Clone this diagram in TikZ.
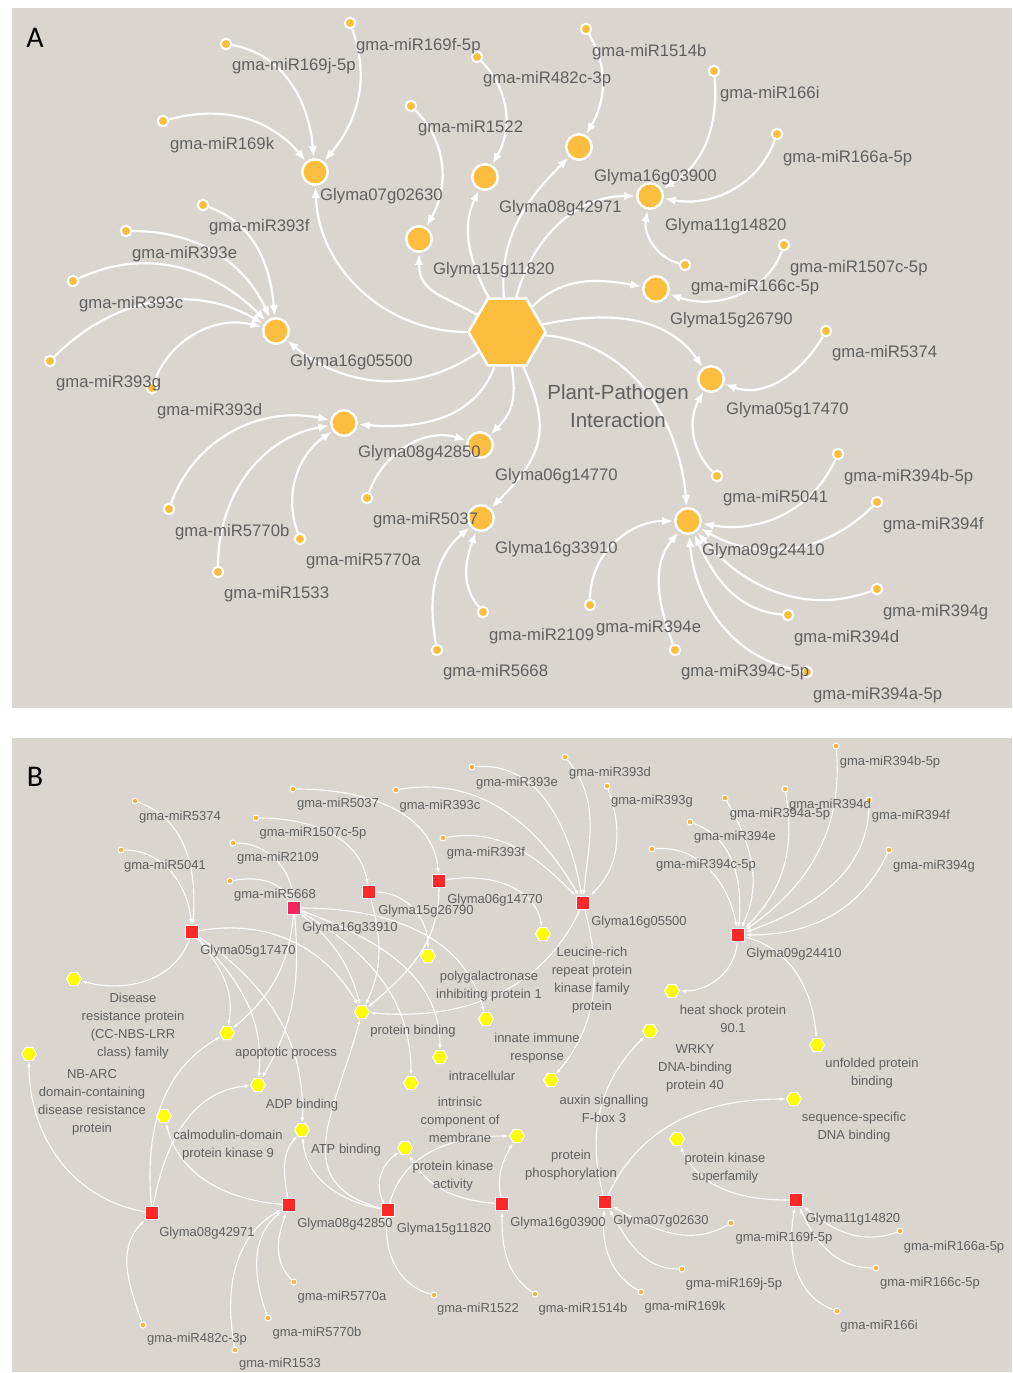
\documentclass[tikz,border=0pt]{standalone}
\usepackage{fontspec}
\setmainfont{Liberation Sans}
\newfontfamily\carl{Carlito}
\usetikzlibrary{shapes.geometric,arrows.meta}
\definecolor{bgc}{RGB}{218,213,207}
\definecolor{orA}{RGB}{253,190,64}
\definecolor{txt}{RGB}{96,96,96}
\definecolor{redB}{RGB}{255,40,40}
\definecolor{pinkB}{RGB}{238,40,95}
\definecolor{yelB}{RGB}{255,255,0}
\definecolor{orB}{RGB}{255,178,60}
\tikzset{
 tgtA/.style={circle, fill=orA, draw=white, line width=2.4pt, minimum size=25.5pt, inner sep=0pt},
 mirA/.style={circle, fill=orA, draw=white, line width=2pt, minimum size=10.5pt, inner sep=0pt},
 hubA/.style={regular polygon, regular polygon sides=6, fill=orA, draw=white, line width=2.5pt, minimum size=77pt, inner sep=0pt},
 lblA/.style={font=\fontsize{16.7}{20}\selectfont, text=txt, anchor=west, inner sep=0pt},
 edA/.style={draw=white, line width=2.2pt, -{Latex[length=11pt,width=8.5pt]}, shorten >=1pt},
 glyB/.style={rectangle, fill=redB, draw=white, line width=1.2pt, minimum size=13.5pt, inner sep=0pt},
 goB/.style={regular polygon, regular polygon sides=6, fill=yelB, draw=white, line width=1pt, minimum size=15pt, inner sep=0pt},
 mirB/.style={circle, fill=orB, draw=white, line width=1pt, minimum size=6pt, inner sep=0pt},
 lblB/.style={font=\fontsize{13}{18}\selectfont, text=txt, inner sep=0pt, align=center},
 edB/.style={draw=white, line width=1.1pt, -{Latex[length=5pt,width=3.8pt]}, shorten >=0.5pt},
 letter/.style={font=\carl\fontsize{30}{30}\selectfont, text=black, inner sep=0pt}
}
\begin{document}
\begin{tikzpicture}[x=1pt,y=1pt]
\useasboundingbox (0,0) rectangle (1012,-1373);
\fill[white] (0,0) rectangle (1012,-1373);
\fill[bgc] (12,-8) rectangle (1012,-708);
\fill[bgc] (12,-738) rectangle (1012,-1372);
\node[letter] (LA) at (35,-38) {A};
\node[letter] (LB) at (35,-777) {B};

% ================= PANEL A =================
\node[hubA] (H) at (507,-332) {};
\node[tgtA] (a0702) at (315,-172) {};
\node[tgtA] (a1511) at (419,-239) {};
\node[tgtA] (a0897) at (485,-177) {};
\node[tgtA] (a1603) at (579,-147) {};
\node[tgtA] (a1114) at (650,-196) {};
\node[tgtA] (a1526) at (656,-289) {};
\node[tgtA] (a0517) at (711,-379) {};
\node[tgtA] (a0924) at (688,-521) {};
\node[tgtA] (a1633) at (481,-518) {};
\node[tgtA] (a0614) at (480,-445) {};
\node[tgtA] (a0885) at (344,-423) {};
\node[tgtA] (a1655) at (276,-331) {};

\node[mirA] (am169f) at (350,-23) {};
\node[mirA] (am169j) at (226,-44) {};
\node[mirA] (am169k) at (163,-121) {};
\node[mirA] (am482) at (477,-57) {};
\node[mirA] (am1522) at (411,-106) {};
\node[mirA] (am393f) at (203,-205) {};
\node[mirA] (am393e) at (126,-231) {};
\node[mirA] (am393c) at (73,-281) {};
\node[mirA] (am393g) at (50,-361) {};
\node[mirA] (am393d) at (152,-388) {};
\node[mirA] (am1514) at (586,-29) {};
\node[mirA] (am166i) at (714,-71) {};
\node[mirA] (am166a) at (777,-134) {};
\node[mirA] (am166c) at (685,-265) {};
\node[mirA] (am1507) at (784,-245) {};
\node[mirA] (am5374) at (826,-331) {};
\node[mirA] (am5041) at (717,-476) {};
\node[mirA] (am394b) at (838,-454) {};
\node[mirA] (am394f) at (877,-502) {};
\node[mirA] (am394g) at (877,-589) {};
\node[mirA] (am394d) at (788,-615) {};
\node[mirA] (am394a) at (807,-672) {};
\node[mirA] (am394c) at (675,-650) {};
\node[mirA] (am394e) at (590,-605) {};
\node[mirA] (am2109) at (483,-612) {};
\node[mirA] (am5668) at (437,-650) {};
\node[mirA] (am5037) at (367,-498) {};
\node[mirA] (am5770b) at (169,-509) {};
\node[mirA] (am1533) at (218,-572) {};
\node[mirA] (am5770a) at (300,-539) {};

% hub edges
\draw[edA] (H) to[out=180,in=-88] (a0702);
\draw[edA] (H) to[out=-145,in=-40] (a1655);
\draw[edA] (H) to[out=150,in=-90,looseness=1.2] (a1511);
\draw[edA] (H) to[out=118,in=-115] (a0897);
\draw[edA] (H) to[out=95,in=-135] (a1603);
\draw[edA] (H) to[out=75,in=180] (a1114);
\draw[edA] (H) to[out=45,in=170] (a1526);
\draw[edA] (H) to[out=12,in=125] (a0517);
\draw[edA] (H) to[out=-5,in=95] (a0924);
\draw[edA] (H) to[out=-65,in=45,looseness=1.25] (a1633);
\draw[edA] (H) to[out=-82,in=45,looseness=1.15] (a0614);
\draw[edA] (H) to[out=-110,in=-5] (a0885);
% miR edges
\draw[edA] (am169f) to[out=-70,in=50] (a0702);
\draw[edA] (am169j) to[out=-10,in=95] (a0702);
\draw[edA] (am169k) to[out=15,in=130] (a0702);
\draw[edA] (am482) to[out=-45,in=60] (a0897);
\draw[edA] (am1522) to[out=-45,in=60] (a1511);
\draw[edA] (am1514) to[out=-60,in=60] (a1603);
\draw[edA] (am166i) to[out=-85,in=30] (a1114);
\draw[edA] (am166a) to[out=-110,in=-10] (a1114);
\draw[edA] (am166c) to[out=165,in=-100] (a1114);
\draw[edA] (am1507) to[out=-110,in=-20] (a1526);
\draw[edA] (am5374) to[out=-120,in=-20] (a0517);
\draw[edA] (am5041) to[out=135,in=-120] (a0517);
\draw[edA] (am394b) to[out=-115,in=-10] (a0924);
\draw[edA] (am394f) to[out=-135,in=-30] (a0924);
\draw[edA] (am394g) to[out=-160,in=-50] (a0924);
\draw[edA] (am394d) to[out=175,in=-65] (a0924);
\draw[edA] (am394a) to[out=170,in=-85] (a0924);
\draw[edA] (am394c) to[out=110,in=-130] (a0924);
\draw[edA] (am394e) to[out=90,in=180] (a0924);
\draw[edA] (am2109) to[out=130,in=-110] (a1633);
\draw[edA] (am5668) to[out=100,in=-140] (a1633);
\draw[edA] (am5037) to[out=70,in=162] (a0614);
\draw[edA] (am5770b) to[out=70,in=168] (a0885);
\draw[edA] (am1533) to[out=90,in=-170] (a0885);
\draw[edA] (am5770a) to[out=110,in=-145] (a0885);
\draw[edA] (am393f) to[out=-20,in=95] (a1655);
\draw[edA] (am393e) to[out=0,in=115] (a1655);
\draw[edA] (am393c) to[out=25,in=135] (a1655);
\draw[edA] (am393g) to[out=45,in=150] (a1655);
\draw[edA] (am393d) to[out=70,in=165] (a1655);

% labels A
\node[lblA] (ta0702) at (320,-196) {Glyma07g02630};
\node[lblA] (ta1511) at (433,-270) {Glyma15g11820};
\node[lblA] (ta0897) at (499,-208) {Glyma08g42971};
\node[lblA] (ta1603) at (594,-177) {Glyma16g03900};
\node[lblA] (ta1114) at (665,-226) {Glyma11g14820};
\node[lblA] (ta1526) at (670,-320) {Glyma15g26790};
\node[lblA] (ta0517) at (726,-410) {Glyma05g17470};
\node[lblA] (ta0924) at (702,-551) {Glyma09g24410};
\node[lblA] (ta1633) at (495,-549) {Glyma16g33910};
\node[lblA] (ta0614) at (495,-476) {Glyma06g14770};
\node[lblA] (ta0885) at (358,-453) {Glyma08g42850};
\node[lblA] (ta1655) at (290,-362) {Glyma16g05500};
\node[lblA] (tm169f) at (356,-46) {gma-miR169f-5p};
\node[lblA] (tm169j) at (232,-66) {gma-miR169j-5p};
\node[lblA] (tm169k) at (170,-145) {gma-miR169k};
\node[lblA] (tm482) at (483,-79) {gma-miR482c-3p};
\node[lblA] (tm1522) at (418,-128) {gma-miR1522};
\node[lblA] (tm393f) at (209,-227) {gma-miR393f};
\node[lblA] (tm393e) at (132,-254) {gma-miR393e};
\node[lblA] (tm393c) at (79,-304) {gma-miR393c};
\node[lblA] (tm393g) at (56,-383) {gma-miR393g};
\node[lblA] (tm393d) at (157,-411) {gma-miR393d};
\node[lblA] (tm1514) at (592,-52) {gma-miR1514b};
\node[lblA] (tm166i) at (720,-94) {gma-miR166i};
\node[lblA] (tm166a) at (783,-158) {gma-miR166a-5p};
\node[lblA] (tm166c) at (691,-287) {gma-miR166c-5p};
\node[lblA] (tm1507) at (790,-268) {gma-miR1507c-5p};
\node[lblA] (tm5374) at (832,-353) {gma-miR5374};
\node[lblA] (tm5041) at (723,-498) {gma-miR5041};
\node[lblA] (tm394b) at (844,-477) {gma-miR394b-5p};
\node[lblA] (tm394f) at (883,-525) {gma-miR394f};
\node[lblA] (tm394g) at (883,-612) {gma-miR394g};
\node[lblA] (tm394d) at (794,-638) {gma-miR394d};
\node[lblA] (tm394a) at (813,-695) {gma-miR394a-5p};
\node[lblA] (tm394c) at (681,-672) {gma-miR394c-5p};
\node[lblA] (tm394e) at (596,-628) {gma-miR394e};
\node[lblA] (tm2109) at (489,-636) {gma-miR2109};
\node[lblA] (tm5668) at (443,-672) {gma-miR5668};
\node[lblA] (tm5037) at (373,-520) {gma-miR5037};
\node[lblA] (tm5770b) at (175,-532) {gma-miR5770b};
\node[lblA] (tm1533) at (224,-594) {gma-miR1533};
\node[lblA] (tm5770a) at (306,-561) {gma-miR5770a};
\node[font=\fontsize{20.5}{28}\selectfont, text=txt, align=center, inner sep=0pt] (tPP) at (618,-406) {Plant-Pathogen\\Interaction};

% ================= PANEL B =================
\node[glyB] (b0517) at (192,-932) {};
\node[glyB, fill=pinkB] (b1633) at (294,-908) {};
\node[glyB] (b1526) at (369,-892) {};
\node[glyB] (b0614) at (439,-881) {};
\node[glyB] (b1655) at (583,-903) {};
\node[glyB] (b0924) at (738,-935) {};
\node[glyB] (b0897) at (152,-1213) {};
\node[glyB] (b0885) at (289,-1205) {};
\node[glyB] (b1511) at (388,-1210) {};
\node[glyB] (b1603) at (502,-1204) {};
\node[glyB] (b0702) at (605,-1202) {};
\node[glyB] (b1114) at (796,-1200) {};

\node[goB] (gDis) at (74,-979) {};
\node[goB] (gNB) at (29,-1054) {};
\node[goB] (gApo) at (227,-1033) {};
\node[goB] (gADP) at (258,-1085) {};
\node[goB] (gCal) at (164,-1116) {};
\node[goB] (gATP) at (302,-1130) {};
\node[goB] (gPB) at (362,-1012) {};
\node[goB] (gPoly) at (428,-956) {};
\node[goB] (gLRR) at (543,-934) {};
\node[goB] (gImm) at (486,-1019) {};
\node[goB] (gIntra) at (440,-1057) {};
\node[goB] (gMem) at (411,-1083) {};
\node[goB] (gPKA) at (405,-1148) {};
\node[goB] (gAux) at (551,-1080) {};
\node[goB] (gPhos) at (517,-1136) {};
\node[goB] (gHSP) at (672,-991) {};
\node[goB] (gWRKY) at (650,-1031) {};
\node[goB] (gUnf) at (817,-1045) {};
\node[goB] (gSeq) at (794,-1099) {};
\node[goB] (gPKS) at (677,-1139) {};

\node[mirB] (bm5374) at (135,-801) {};
\node[mirB] (bm5041) at (121,-850) {};
\node[mirB] (bm2109) at (233,-843) {};
\node[mirB] (bm5668) at (230,-881) {};
\node[mirB] (bm1507) at (256,-818) {};
\node[mirB] (bm5037) at (293,-789) {};
\node[mirB] (bm393c) at (396,-790) {};
\node[mirB] (bm393e) at (472,-767) {};
\node[mirB] (bm393d) at (565,-757) {};
\node[mirB] (bm393g) at (607,-786) {};
\node[mirB] (bm393f) at (443,-838) {};
\node[mirB] (bm394c) at (652,-849) {};
\node[mirB] (bm394e) at (690,-822) {};
\node[mirB] (bm394a) at (725,-798) {};
\node[mirB] (bm394d) at (785,-789) {};
\node[mirB] (bm394b) at (836,-746) {};
\node[mirB] (bm394f) at (869,-800) {};
\node[mirB] (bm394g) at (889,-850) {};
\node[mirB] (bm482) at (143,-1325) {};
\node[mirB] (bm1533) at (235,-1350) {};
\node[mirB] (bm5770b) at (268,-1318) {};
\node[mirB] (bm5770a) at (294,-1282) {};
\node[mirB] (bm1522) at (434,-1295) {};
\node[mirB] (bm1514) at (535,-1294) {};
\node[mirB] (bm169k) at (641,-1292) {};
\node[mirB] (bm169j) at (682,-1269) {};
\node[mirB] (bm169f) at (731,-1223) {};
\node[mirB] (bm166a) at (900,-1231) {};
\node[mirB] (bm166c) at (876,-1268) {};
\node[mirB] (bm166i) at (837,-1311) {};

% miR -> Glyma (B)
\draw[edB] (bm5374) to[out=-20,in=85] (b0517);
\draw[edB] (bm5041) to[out=0,in=95] (b0517);
\draw[edB] (bm2109) to[out=0,in=95] (b1633);
\draw[edB] (bm5668) to[out=10,in=120] (b1633);
\draw[edB] (bm1507) to[out=0,in=100] (b1526);
\draw[edB] (bm5037) to[out=0,in=95] (b0614);
\draw[edB] (bm393c) to[out=10,in=120] (b1655);
\draw[edB] (bm393e) to[out=5,in=100] (b1655);
\draw[edB] (bm393f) to[out=10,in=135] (b1655);
\draw[edB] (bm393d) to[out=-50,in=85] (b1655);
\draw[edB] (bm393g) to[out=-70,in=45] (b1655);
\draw[edB] (bm394c) to[out=5,in=100] (b0924);
\draw[edB] (bm394e) to[out=-20,in=85] (b0924);
\draw[edB] (bm394a) to[out=-60,in=65] (b0924);
\draw[edB] (bm394d) to[out=-80,in=45] (b0924);
\draw[edB] (bm394b) to[out=-85,in=35] (b0924);
\draw[edB] (bm394f) to[out=-90,in=20] (b0924);
\draw[edB] (bm394g) to[out=-115,in=0] (b0924);
\draw[edB] (bm482) to[out=110,in=-135] (b0897);
\draw[edB] (bm1533) to[out=100,in=-150] (b0885);
\draw[edB] (bm5770b) to[out=110,in=-140] (b0885);
\draw[edB] (bm5770a) to[out=135,in=-110] (b0885);
\draw[edB] (bm1522) to[out=165,in=-95] (b1511);
\draw[edB] (bm1514) to[out=145,in=-90] (b1603);
\draw[edB] (bm169k) to[out=150,in=-95] (b0702);
\draw[edB] (bm169j) to[out=180,in=-60] (b0702);
\draw[edB] (bm169f) to[out=-150,in=-30] (b0702);
\draw[edB] (bm166a) to[out=-160,in=-40] (b1114);
\draw[edB] (bm166c) to[out=180,in=-65] (b1114);
\draw[edB] (bm166i) to[out=160,in=-100] (b1114);

% Glyma -> GO (B)
\draw[edB] (b0517) to[out=-110,in=-15] (gDis);
\draw[edB] (b0517) to[out=-50,in=80] (gApo);
\draw[edB] (b0517) to[out=-45,in=85] (gADP);
\draw[edB] (b0517) to[out=-35,in=88] (gATP);
\draw[edB] (b0517) to[out=10,in=120] (gPB);
\draw[edB] (b1633) to[out=-95,in=40] (gApo);
\draw[edB] (b1633) to[out=-85,in=60] (gADP);
\draw[edB] (b1633) to[out=-40,in=105] (gPB);
\draw[edB] (b1633) to[out=-20,in=90] (gIntra);
\draw[edB] (b1633) to[out=-30,in=90] (gMem);
\draw[edB] (b1633) to[out=0,in=105] (gImm);
\draw[edB] (b1526) to[out=0,in=90] (gPoly);
\draw[edB] (b1526) to[out=-75,in=65] (gPB);
\draw[edB] (b0614) to[out=10,in=100] (gLRR);
\draw[edB] (b0614) to[out=-90,in=40] (gPB);
\draw[edB] (b1655) to[out=-115,in=-5] (gPB);
\draw[edB] (b1655) to[out=-75,in=50] (gAux);
\draw[edB] (b0924) to[out=-95,in=0] (gHSP);
\draw[edB] (b0924) to[out=-15,in=95] (gUnf);
\draw[edB] (b0897) to[out=170,in=-90] (gNB);
\draw[edB] (b0897) to[out=95,in=-150] (gApo);
\draw[edB] (b0897) to[out=80,in=-175] (gADP);
\draw[edB] (b0885) to[out=175,in=-75] (gCal);
\draw[edB] (b0885) to[out=100,in=-130] (gATP);
\draw[edB] (b1511) to[out=170,in=-85] (gATP);
\draw[edB] (b1511) to[out=165,in=-105,looseness=1.3] (gPB);
\draw[edB] (b1511) to[out=120,in=-145] (gPKA);
\draw[edB] (b1511) to[out=75,in=180] (gPhos);
\draw[edB] (b1603) to[out=175,in=-60] (gPKA);
\draw[edB] (b1603) to[out=100,in=-120] (gPhos);
\draw[edB] (b0702) to[out=105,in=-135] (gWRKY);
\draw[edB] (b0702) to[out=65,in=180] (gSeq);
\draw[edB] (b1114) to[out=180,in=-65] (gPKS);

% labels B
\node[lblB] (tb5374) at (180,-817) {gma-miR5374};
\node[lblB] (tb5041) at (165,-866) {gma-miR5041};
\node[lblB] (tb2109) at (278,-858) {gma-miR2109};
\node[lblB] (tb5668) at (275,-895) {gma-miR5668};
\node[lblB] (tb1507) at (313,-833) {gma-miR1507c-5p};
\node[lblB] (tb5037) at (338,-804) {gma-miR5037};
\node[lblB] (tb393c) at (440,-806) {gma-miR393c};
\node[lblB] (tb393e) at (517,-783) {gma-miR393e};
\node[lblB] (tb393d) at (610,-773) {gma-miR393d};
\node[lblB] (tb393g) at (652,-801) {gma-miR393g};
\node[lblB] (tb393f) at (486,-853) {gma-miR393f};
\node[lblB] (tb394c) at (706,-865) {gma-miR394c-5p};
\node[lblB] (tb394e) at (735,-837) {gma-miR394e};
\node[lblB] (tb394a) at (780,-814) {gma-miR394a-5p};
\node[lblB] (tb394d) at (830,-805) {gma-miR394d};
\node[lblB] (tb394b) at (890,-762) {gma-miR394b-5p};
\node[lblB] (tb394f) at (911,-816) {gma-miR394f};
\node[lblB] (tb394g) at (934,-866) {gma-miR394g};
\node[lblB] (tb482) at (197,-1339) {gma-miR482c-3p};
\node[lblB] (tb1533) at (280,-1364) {gma-miR1533};
\node[lblB] (tb5770b) at (317,-1333) {gma-miR5770b};
\node[lblB] (tb5770a) at (342,-1297) {gma-miR5770a};
\node[lblB] (tb1522) at (478,-1309) {gma-miR1522};
\node[lblB] (tb1514) at (583,-1309) {gma-miR1514b};
\node[lblB] (tb169k) at (685,-1307) {gma-miR169k};
\node[lblB] (tb169j) at (734,-1284) {gma-miR169j-5p};
\node[lblB] (tb169f) at (784,-1238) {gma-miR169f-5p};
\node[lblB] (tb166a) at (954,-1247) {gma-miR166a-5p};
\node[lblB] (tb166c) at (930,-1283) {gma-miR166c-5p};
\node[lblB] (tb166i) at (879,-1326) {gma-miR166i};

\node[lblB] (tg0517) at (248,-951) {Glyma05g17470};
\node[lblB] (tg1633) at (350,-928) {Glyma16g33910};
\node[lblB] (tg1526) at (426,-911) {Glyma15g26790};
\node[lblB] (tg0614) at (495,-900) {Glyma06g14770};
\node[lblB] (tg1655) at (639,-922) {Glyma16g05500};
\node[lblB] (tg0924) at (794,-954) {Glyma09g24410};
\node[lblB] (tg0897) at (207,-1233) {Glyma08g42971};
\node[lblB] (tg0885) at (345,-1224) {Glyma08g42850};
\node[lblB] (tg1511) at (444,-1229) {Glyma15g11820};
\node[lblB] (tg1603) at (558,-1223) {Glyma16g03900};
\node[lblB] (tg0702) at (661,-1221) {Glyma07g02630};
\node[lblB] (tg1114) at (853,-1219) {Glyma11g14820};

\node[lblB] (toDis) at (133,-1026) {Disease\\resistance protein\\(CC-NBS-LRR\\class) family};
\node[lblB] (toApo) at (286,-1053) {apoptotic process};
\node[lblB] (toNB) at (92,-1102) {NB-ARC\\domain-containing\\disease resistance\\protein};
\node[lblB] (toADP) at (302,-1105) {ADP binding};
\node[lblB] (toCal) at (228,-1145) {calmodulin-domain\\protein kinase 9};
\node[lblB] (toATP) at (346,-1150) {ATP binding};
\node[lblB] (toPB) at (413,-1031) {protein binding};
\node[lblB] (toPoly) at (489,-986) {polygalactronase\\inhibiting protein 1};
\node[lblB] (toLRR) at (592,-980) {Leucine-rich\\repeat protein\\kinase family\\protein};
\node[lblB] (toImm) at (537,-1048) {innate immune\\response};
\node[lblB] (toIntra) at (482,-1076) {intracellular};
\node[lblB] (toMem) at (460,-1120) {intrinsic\\component of\\membrane};
\node[lblB] (toPKA) at (453,-1176) {protein kinase\\activity};
\node[lblB] (toAux) at (604,-1109) {auxin signalling\\F-box 3};
\node[lblB] (toPhos) at (571,-1165) {protein\\phosphorylation};
\node[lblB] (toHSP) at (733,-1019) {heat shock protein\\90.1};
\node[lblB] (toWRKY) at (695,-1068) {WRKY\\DNA-binding\\protein 40};
\node[lblB] (toUnf) at (872,-1073) {unfolded protein\\binding};
\node[lblB] (toSeq) at (854,-1127) {sequence-specific\\DNA binding};
\node[lblB] (toPKS) at (725,-1168) {protein kinase\\superfamily};
\end{tikzpicture}
\end{document}
